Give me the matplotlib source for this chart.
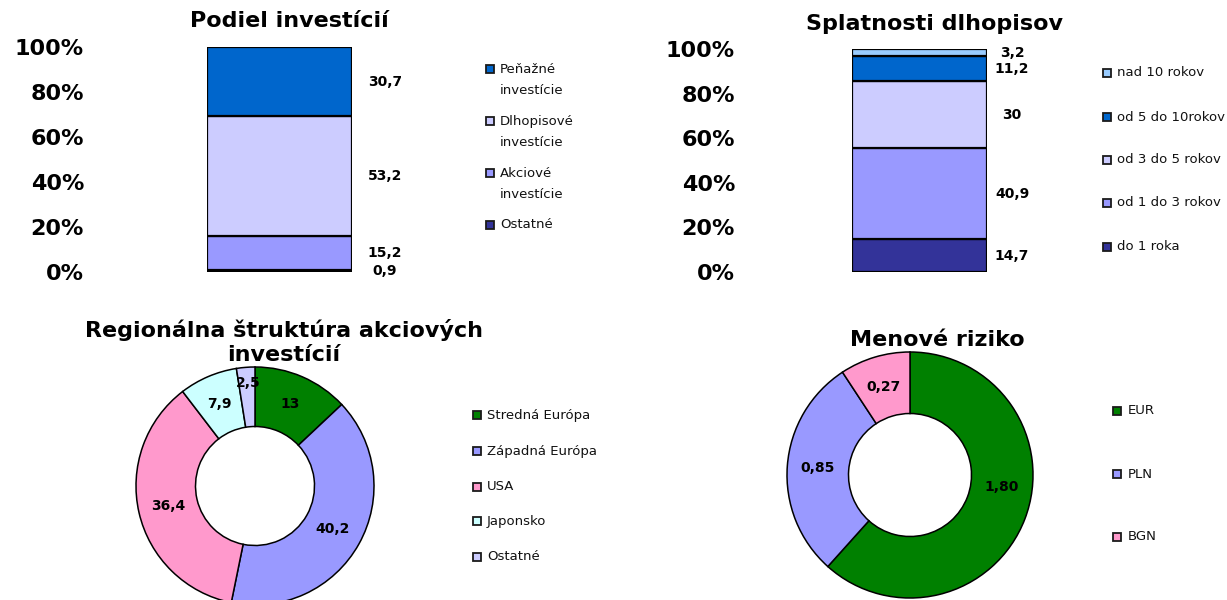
import numpy as np
import matplotlib
matplotlib.use("Agg")
import matplotlib.pyplot as plt
from matplotlib.patches import Rectangle

# ---------------- data ----------------
inv_labels = ["Ostatné", "Akciové\ninvestície", "Dlhopisové\ninvestície", "Peňažné\ninvestície"]
inv_values = [0.9, 15.2, 53.2, 30.7]
inv_colors = ["#333399", "#9999FF", "#CCCCFF", "#0066CC"]

mat_labels = ["do 1 roka", "od 1 do 3 rokov", "od 3 do 5 rokov", "od 5 do 10rokov", "nad 10 rokov"]
mat_values = [14.7, 40.9, 30.0, 11.2, 3.2]
mat_colors = ["#333399", "#9999FF", "#CCCCFF", "#0066CC", "#99CCFF"]

reg_labels = ["Stredná Európa", "Západná Európa", "USA", "Japonsko", "Ostatné"]
reg_values = [13.0, 40.2, 36.4, 7.9, 2.5]
reg_colors = ["#008000", "#9999FF", "#FF99CC", "#CCFFFF", "#CCCCFF"]

cur_labels = ["EUR", "PLN", "BGN"]
cur_values = [1.80, 0.85, 0.27]
cur_colors = ["#008000", "#9999FF", "#FF99CC"]

pct_ticks = [0, 20, 40, 60, 80, 100]
pct_tick_labels = ["0%", "20%", "40%", "60%", "80%", "100%"]

# ---------------- layout helpers ----------------
W, H = 1227, 600
plt.rcParams['font.family'] = ['DejaVu Sans']
fig = plt.figure(figsize=(W / 100, H / 100), dpi=100)
fig.patch.set_facecolor("white")


def fx(px):
    return px / W


def fy(py):
    return 1 - py / H


def add_axes_px(left, top, right, bottom):
    return fig.add_axes([fx(left), fy(bottom), (right - left) / W, (bottom - top) / H])


def comma(v, fmt="{:g}"):
    return fmt.format(v).replace(".", ",")


def legend_px(labels, colors, mx, tx, ys, fs=9.5, ls=1.75):
    # ys: vertical centre of the first text line of each entry (pixels)
    for lab, col, y in zip(labels, colors, ys):
        fig.patches.append(Rectangle((fx(mx - 4), fy(y + 4)), 8 / W, 8 / H,
                                     transform=fig.transFigure, facecolor=col,
                                     edgecolor="#1a1a1a", linewidth=1.3))
        if "\n" in lab:
            fig.text(fx(tx), fy(y - 6), lab, fontsize=fs, ha="left", va="top",
                     linespacing=ls, color="#111111")
        else:
            fig.text(fx(tx), fy(y), lab, fontsize=fs, ha="left", va="center", color="#111111")


def stacked_bar(ax, values, colors, label_dx_px, tick_pad_px):
    bottom = 0
    for v, c in zip(values, colors):
        ax.bar(0, v, bottom=bottom, width=1.0, color=c, edgecolor="black", linewidth=1.6)
        ax.annotate(comma(v), xy=(0.5, bottom + v / 2), xytext=(label_dx_px * 0.72, 0),
                    textcoords="offset points", ha="center", va="center",
                    fontsize=10, fontweight="bold", annotation_clip=False)
        bottom += v
    ax.set_xlim(-0.5, 0.5)
    ax.set_ylim(0, 100)
    ax.set_yticks(pct_ticks)
    ax.set_yticklabels(pct_tick_labels, fontsize=16, fontweight="bold")
    ax.tick_params(axis="y", length=0, pad=tick_pad_px * 0.72)
    ax.set_xticks([])
    for s in ax.spines.values():
        s.set_visible(False)
    ax.patch.set_alpha(0)


def donut(ax, values, colors, fmt, nudges=None):
    wedges, _ = ax.pie(values, colors=colors, startangle=90, counterclock=False, radius=1.0,
                       wedgeprops=dict(width=0.5, edgecolor="black", linewidth=1.1))
    ax.set_xlim(-1, 1)
    ax.set_ylim(-1, 1)
    ax.set_aspect("equal")
    for i, (w, v) in enumerate(zip(wedges, values)):
        th = np.deg2rad((w.theta1 + w.theta2) / 2)
        x, y = 0.75 * np.cos(th), 0.75 * np.sin(th)
        dx, dy = (nudges or {}).get(i, (0, 0))
        ax.annotate(comma(v, fmt), xy=(x, y), xytext=(dx * 0.72, -dy * 0.72),
                    textcoords="offset points", ha="center", va="center",
                    fontsize=10, fontweight="bold", annotation_clip=False)


# ---------------- chart 1 ----------------
ax1 = add_axes_px(207, 47, 352, 272)
stacked_bar(ax1, inv_values, inv_colors, 33, 123)
fig.text(fx(289), fy(21), "Podiel investícií", fontsize=16, fontweight="bold", ha="center", va="center")
legend_px(inv_labels[::-1], inv_colors[::-1], 490, 500, [69, 121, 173, 225])

# ---------------- chart 2 ----------------
ax2 = add_axes_px(852, 49, 987, 272)
stacked_bar(ax2, mat_values, mat_colors, 25, 117)
fig.text(fx(934), fy(24), "Splatnosti dlhopisov", fontsize=16, fontweight="bold", ha="center", va="center")
legend_px(mat_labels[::-1], mat_colors[::-1], 1107, 1117, [73, 117, 160, 203, 247])

# ---------------- chart 3 ----------------
ax3 = add_axes_px(136, 367, 374, 605)
donut(ax3, reg_values, reg_colors, "{:g}", nudges={4: (0, -14)})
fig.text(fx(284), fy(342), "Regionálna štruktúra akciových\ninvestícií", fontsize=16,
         fontweight="bold", ha="center", va="center", linespacing=1.2)
legend_px(reg_labels, reg_colors, 477, 487, [415, 451, 487, 521, 557])

# ---------------- chart 4 ----------------
ax4 = add_axes_px(787, 352, 1033, 598)
donut(ax4, cur_values, cur_colors, "{:.2f}", nudges={0: (5, -21)})
fig.text(fx(937), fy(340), "Menové riziko", fontsize=16, fontweight="bold", ha="center", va="center")
legend_px(cur_labels, cur_colors, 1117, 1128, [411, 474, 537])

fig.savefig("out.png", dpi=100, facecolor="white")
